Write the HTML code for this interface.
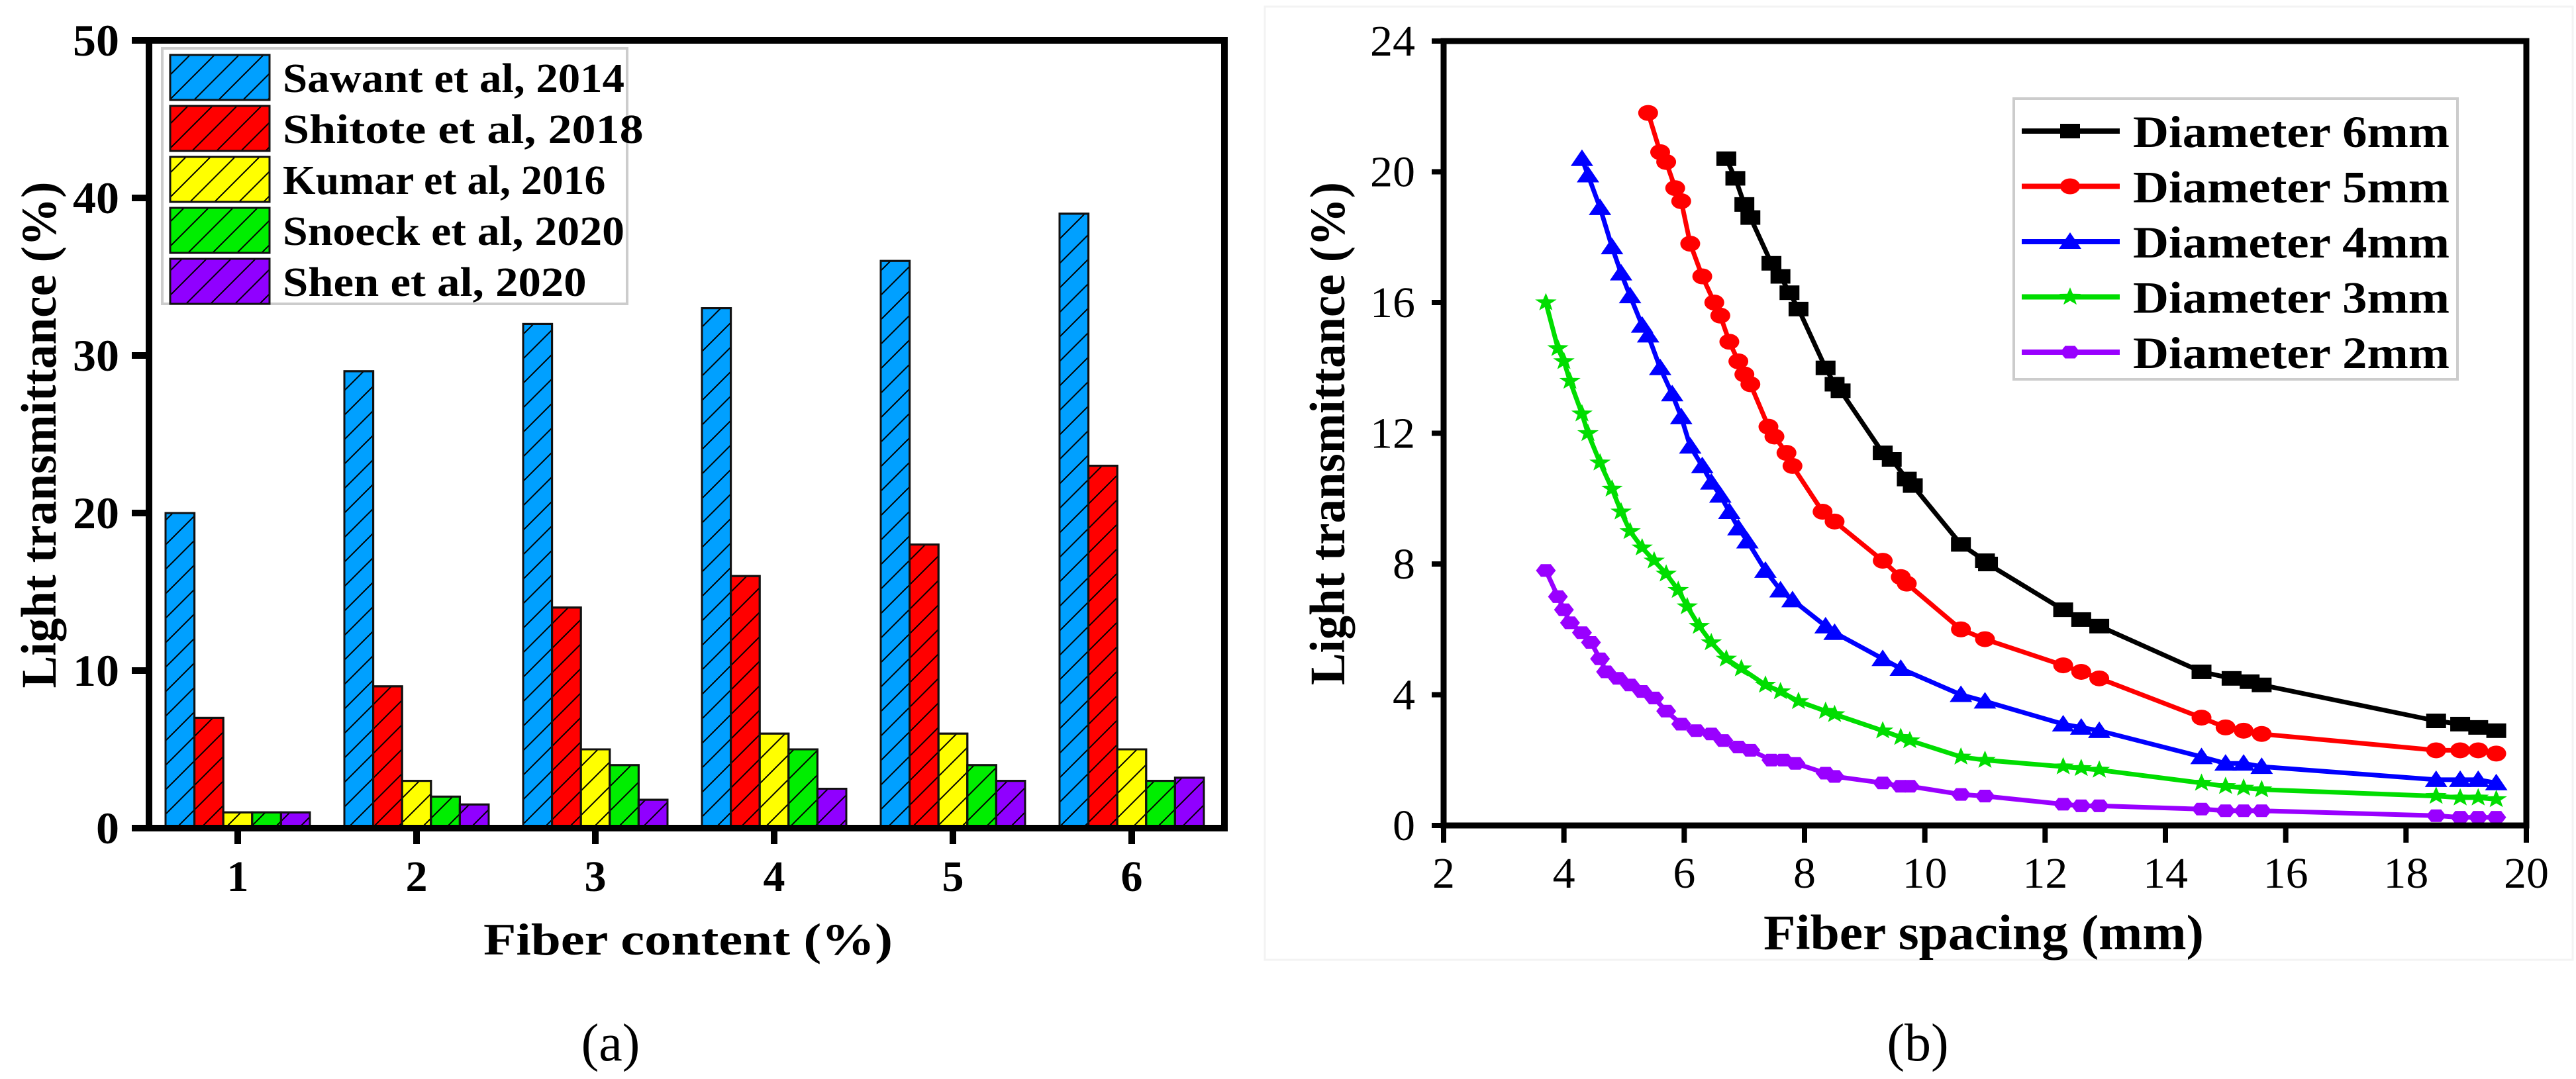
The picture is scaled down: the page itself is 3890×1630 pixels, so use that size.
<!DOCTYPE html>
<html><head><meta charset="utf-8"><title>Light transmittance charts</title>
<style>
html,body{margin:0;padding:0;background:#fff;}
svg{display:block;font-family:"Liberation Serif",serif;}
</style></head>
<body>
<svg id="fig" width="3890" height="1630" viewBox="0 0 3890 1630" xmlns="http://www.w3.org/2000/svg">
<defs>
<pattern id="hatch" patternUnits="userSpaceOnUse" width="37" height="37">
<path d="M-5,42 L42,-5 M-42,42 L42,-42 M0,74 L74,0" stroke="#000" stroke-width="2" fill="none"/>
</pattern>
</defs>
<rect x="1910" y="10" width="1975" height="1440" fill="none" stroke="#f3f3f3" stroke-width="3"/>
<g id="chartA"></g>
<g id="chartB"></g>
</svg>
<script>
// ---- Chart A data ----
const catsA = [1, 2, 3, 4, 5, 6];
const seriesNamesA = ["Sawant et al, 2014", "Shitote et al, 2018", "Kumar et al, 2016", "Snoeck et al, 2020", "Shen et al, 2020"];
const sawant = [20, 29, 32, 33, 36, 39];
const shitote = [7, 9, 14, 16, 18, 23];
const kumar = [1, 3, 5, 6, 6, 5];
const snoeck = [1, 2, 4, 5, 4, 3];
const shen = [1, 1.5, 1.8, 2.5, 3, 3.2];
const yTicksA = [0, 10, 20, 30, 40, 50];

// ---- Chart B data ----
const xTicksB = [2, 4, 6, 8, 10, 12, 14, 16, 18, 20];
const yTicksB = [0, 4, 8, 12, 16, 20, 24];
const seriesNamesB = ["Diameter 6mm", "Diameter 5mm", "Diameter 4mm", "Diameter 3mm", "Diameter 2mm"];
const d6x = [6.7,6.85,7,7.1,7.45,7.6,7.75,7.9,8.35,8.5,8.6,9.3,9.45,9.7,9.8,10.6,11,11.05,12.3,12.6,12.9,14.6,15.1,15.4,15.6,18.5,18.9,19.2,19.5];
const d6y = [20.4,19.8,19,18.6,17.2,16.8,16.3,15.8,14,13.5,13.3,11.4,11.2,10.6,10.4,8.6,8.1,8.0,6.6,6.3,6.1,4.7,4.5,4.4,4.3,3.2,3.1,3.0,2.9];
const d5x = [5.4,5.6,5.7,5.85,5.95,6.1,6.3,6.5,6.6,6.75,6.9,7.0,7.1,7.4,7.5,7.7,7.8,8.3,8.5,9.3,9.6,9.7,10.6,11.0,12.3,12.6,12.9,14.6,15.0,15.3,15.6,18.5,18.9,19.2,19.5];
const d5y = [21.8,20.6,20.3,19.5,19.1,17.8,16.8,16.0,15.6,14.8,14.2,13.8,13.5,12.2,11.9,11.4,11.0,9.6,9.3,8.1,7.6,7.4,6.0,5.7,4.9,4.7,4.5,3.3,3.0,2.9,2.8,2.3,2.3,2.3,2.2];
const d4x = [4.3,4.4,4.6,4.8,4.95,5.1,5.3,5.4,5.6,5.8,5.95,6.1,6.3,6.45,6.6,6.75,6.9,7.05,7.35,7.6,7.8,8.35,8.5,9.3,9.6,10.6,11.0,12.3,12.6,12.9,14.6,15.0,15.3,15.6,18.5,18.9,19.2,19.5];
const d4y = [20.4,19.9,18.9,17.7,16.9,16.2,15.3,15.0,14.0,13.2,12.5,11.6,11.0,10.5,10.1,9.6,9.1,8.7,7.8,7.2,6.9,6.1,5.9,5.1,4.8,4.0,3.8,3.1,3.0,2.9,2.1,1.9,1.9,1.8,1.4,1.4,1.4,1.3];
const d3x = [3.7,3.9,4.0,4.1,4.3,4.4,4.6,4.8,4.95,5.1,5.3,5.5,5.7,5.9,6.05,6.25,6.45,6.7,6.95,7.35,7.6,7.9,8.35,8.5,9.3,9.6,9.75,10.6,11.0,12.3,12.6,12.9,14.6,15.0,15.3,15.6,18.5,18.9,19.2,19.5];
const d3y = [16.0,14.6,14.2,13.6,12.6,12.0,11.1,10.3,9.6,9.0,8.5,8.1,7.7,7.2,6.7,6.1,5.6,5.1,4.8,4.3,4.1,3.8,3.5,3.4,2.9,2.7,2.6,2.1,2.0,1.8,1.75,1.7,1.3,1.2,1.15,1.1,0.9,0.85,0.85,0.8];
const d2x = [3.7,3.9,4.0,4.1,4.3,4.45,4.6,4.7,4.9,5.1,5.3,5.5,5.7,5.95,6.2,6.45,6.65,6.9,7.1,7.45,7.65,7.85,8.35,8.5,9.3,9.6,9.75,10.6,11.0,12.3,12.6,12.9,14.6,15.0,15.3,15.6,18.5,18.9,19.2,19.5];
const d2y = [7.8,7.0,6.6,6.2,5.9,5.6,5.1,4.7,4.5,4.3,4.1,3.9,3.5,3.1,2.9,2.8,2.6,2.4,2.3,2.0,2.0,1.9,1.6,1.5,1.3,1.2,1.2,0.95,0.9,0.65,0.6,0.6,0.5,0.45,0.45,0.45,0.3,0.25,0.25,0.25];

const NS = "http://www.w3.org/2000/svg";
function mk(parent, tag, attrs, text) {
  const el = document.createElementNS(NS, tag);
  for (const k in attrs) el.setAttribute(k, attrs[k]);
  if (text !== undefined) el.textContent = text;
  parent.appendChild(el);
  return el;
}

// ===== Chart A =====
(function () {
  const g = document.getElementById("chartA");
  const L = 225, R = 1849, T = 61, B = 1251;
  const yA = v => B - (v / 50) * (B - T);
  const xA = c => 359 + (c - 1) * 270;
  const barW = 43.6;
  const colors = ["#00a0ff", "#ff0000", "#ffff00", "#00ee00", "#9000ff"];
  const seriesA = [sawant, shitote, kumar, snoeck, shen];

  seriesA.forEach((vals, si) => {
    vals.forEach((v, ci) => {
      const x = xA(catsA[ci]) - 2.5 * barW + si * barW;
      const r = mk(g, "rect", {x: x, y: yA(v), width: barW, height: yA(0) - yA(v), fill: colors[si], stroke: "#111", "stroke-width": 3});
      
      
      const h = mk(g, "rect", {x: x, y: yA(v), width: barW, height: yA(0) - yA(v), fill: "url(#hatch)", stroke: "#111", "stroke-width": 3});
      
      
    });
  });

  const fr = mk(g, "rect", {x: L, y: T, width: R - L, height: B - T, fill: "none", stroke: "#000", "stroke-width": 10});
  
  

  yTicksA.forEach(t => {
    const tk = mk(g, "line", {x1: 199, x2: L, y1: yA(t), y2: yA(t), stroke: "#000", "stroke-width": 10});
    
    
    const lb = mk(g, "text", {x: 180, y: yA(t) + 23, "text-anchor": "end", "font-size": 68, "font-weight": "bold", textLength: String(t).length * 35, lengthAdjust: "spacingAndGlyphs"}, String(t));
    
    
  });
  catsA.forEach(c => {
    const tk = mk(g, "line", {x1: xA(c), x2: xA(c), y1: B, y2: 1275, stroke: "#000", "stroke-width": 10});
    
    
    const lb = mk(g, "text", {x: xA(c), y: 1346, "text-anchor": "middle", "font-size": 66, "font-weight": "bold"}, String(c));
    
    
  });
  const xt = mk(g, "text", {x: 730, y: 1442, "font-size": 68, "font-weight": "bold", textLength: 618, lengthAdjust: "spacingAndGlyphs"}, "Fiber content (%)");
  
  
  const yt = mk(g, "text", {x: 0, y: 0, "font-size": 75, "font-weight": "bold", "text-anchor": "middle", textLength: 765, lengthAdjust: "spacingAndGlyphs", transform: "translate(84,657) rotate(-90)"}, "Light transmittance (%)");
  
  
  const pl = mk(g, "text", {x: 922, y: 1602, "font-size": 80, "text-anchor": "middle"}, "(a)");
  
  

  const lg = mk(g, "g", {});
  
  
  mk(lg, "rect", {x: 245, y: 73, width: 702, height: 386, fill: "#fff", stroke: "#ccc", "stroke-width": 4});
  seriesNamesA.forEach((n, i) => {
    const y0 = 83 + i * 77;
    const e = mk(lg, "g", {});
    
    
    mk(e, "rect", {x: 257, y: y0, width: 150, height: 68, fill: colors[i], stroke: "#111", "stroke-width": 3});
    mk(e, "rect", {x: 257, y: y0, width: 150, height: 68, fill: "url(#hatch)", stroke: "#111", "stroke-width": 3});
    const tl = n.length / 18 * 516;
    mk(e, "text", {x: 427, y: y0 + 56, "font-size": 62, "font-weight": "bold", textLength: tl, lengthAdjust: "spacingAndGlyphs"}, n);
  });
})();

// ===== Chart B =====
(function () {
  const g = document.getElementById("chartB");
  const L = 2180, R = 3815, T = 62, B = 1247;
  const xB = v => L + (v - 2) / 18 * (R - L);
  const yB = v => B - v / 24 * (B - T);
  const colors = ["#000000", "#ff0000", "#0000ff", "#00dd00", "#9900ff"];
  const xs = [d6x, d5x, d4x, d3x, d2x];
  const ys = [d6y, d5y, d4y, d3y, d2y];
  const shapes = ["square", "circle", "triangle", "star", "hex"];

  function marker(parent, shape, cx, cy, col) {
    const w = 15, h = 11;
    let el;
    if (shape === "square") el = mk(parent, "rect", {x: cx - w, y: cy - h, width: 2 * w, height: 2 * h, fill: col});
    else if (shape === "circle") el = mk(parent, "ellipse", {cx: cx, cy: cy, rx: w, ry: h + 1, fill: col});
    else if (shape === "triangle") el = mk(parent, "polygon", {points: `${cx},${cy - 14} ${cx + 17},${cy + 11} ${cx - 17},${cy + 11}`, fill: col});
    else if (shape === "star") {
      let pts = [];
      for (let k = 0; k < 10; k++) {
        const a = -Math.PI / 2 + k * Math.PI / 5, r = k % 2 ? 7 : 17;
        pts.push((cx + r * Math.cos(a)).toFixed(1) + "," + (cy + r * Math.sin(a) * 0.85).toFixed(1));
      }
      el = mk(parent, "polygon", {points: pts.join(" "), fill: col});
    } else {
      let pts = [];
      for (let k = 0; k < 6; k++) {
        const a = k * Math.PI / 3;
        pts.push((cx + 15 * Math.cos(a)).toFixed(1) + "," + (cy + 11 * Math.sin(a)).toFixed(1));
      }
      el = mk(parent, "polygon", {points: pts.join(" "), fill: col});
    }
    return el;
  }

  xs.forEach((xa, si) => {
    const ya = ys[si];
    const s = mk(g, "g", {});
    
    
    const d = xa.map((x, i) => (i ? "L" : "M") + xB(x).toFixed(1) + "," + yB(ya[i]).toFixed(1)).join(" ");
    const p = mk(s, "path", {d: d, fill: "none", stroke: colors[si], "stroke-width": 7, "stroke-linejoin": "round"});
    
    
    xa.forEach((x, i) => {
      const m = marker(s, shapes[si], xB(x), yB(ya[i]), colors[si]);
      
      
    });
  });

  const fr = mk(g, "rect", {x: L, y: T, width: R - L, height: B - T, fill: "none", stroke: "#000", "stroke-width": 9});
  
  

  yTicksB.forEach(t => {
    const tk = mk(g, "line", {x1: L - 18, x2: L, y1: yB(t), y2: yB(t), stroke: "#000", "stroke-width": 8});
    
    
    const lb = mk(g, "text", {x: 2137, y: yB(t) + 22, "text-anchor": "end", "font-size": 66, textLength: String(t).length * 34, lengthAdjust: "spacingAndGlyphs"}, String(t));
    
    
  });
  xTicksB.forEach(t => {
    const tk = mk(g, "line", {x1: xB(t), x2: xB(t), y1: B, y2: 1273, stroke: "#000", "stroke-width": 8});
    
    
    const lb = mk(g, "text", {x: xB(t), y: 1341, "text-anchor": "middle", "font-size": 66, textLength: String(t).length * 34, lengthAdjust: "spacingAndGlyphs"}, String(t));
    
    
  });
  const xt = mk(g, "text", {x: 2663, y: 1434, "font-size": 75, "font-weight": "bold", textLength: 665, lengthAdjust: "spacingAndGlyphs"}, "Fiber spacing (mm)");
  
  
  const yt = mk(g, "text", {x: 0, y: 0, "font-size": 75, "font-weight": "bold", "text-anchor": "middle", textLength: 760, lengthAdjust: "spacingAndGlyphs", transform: "translate(2030,655) rotate(-90)"}, "Light transmittance (%)");
  
  
  const pl = mk(g, "text", {x: 2896, y: 1602, "font-size": 80, "text-anchor": "middle"}, "(b)");
  
  

  const lg = mk(g, "g", {});
  
  
  mk(lg, "rect", {x: 3041, y: 149, width: 670, height: 424, fill: "#fff", stroke: "#ccc", "stroke-width": 4});
  seriesNamesB.forEach((n, i) => {
    const cy = 198 + i * 83.5;
    const e = mk(lg, "g", {});
    
    
    mk(e, "line", {x1: 3053, x2: 3201, y1: cy, y2: cy, stroke: colors[i], "stroke-width": 8});
    marker(e, shapes[i], 3126, cy, colors[i]);
    mk(e, "text", {x: 3221, y: cy + 24, "font-size": 68, "font-weight": "bold", textLength: 478, lengthAdjust: "spacingAndGlyphs"}, n);
  });
})();
</script>
</body></html>
